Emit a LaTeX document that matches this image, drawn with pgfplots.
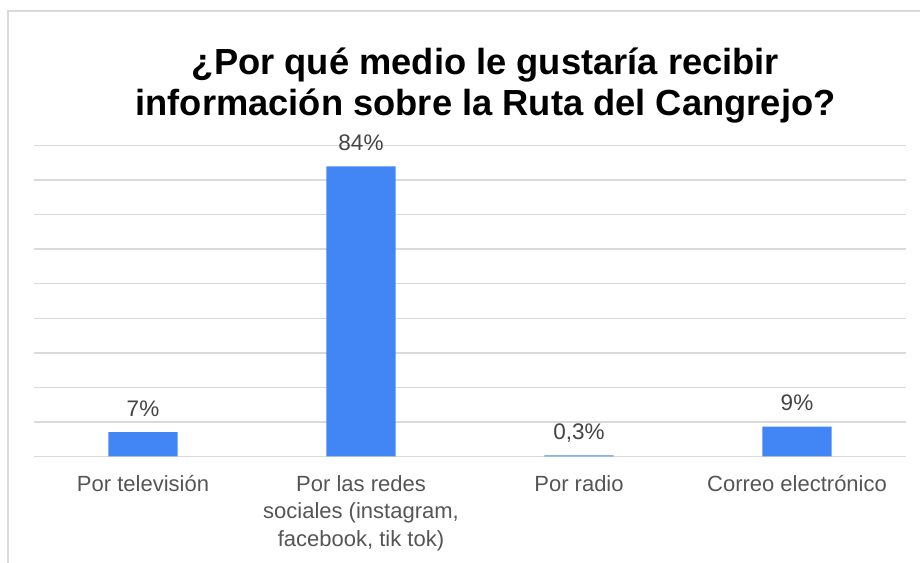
\documentclass[border=0pt]{standalone}
\usepackage{pgfplots}
\pgfplotsset{compat=1.18}
\usepackage{fontspec}
\setmainfont{Liberation Sans}
\definecolor{barblue}{HTML}{4285F4}
\definecolor{gridgray}{HTML}{DADADA}
\definecolor{ticktext}{HTML}{555555}
\definecolor{labeltext}{HTML}{444444}
\begin{document}
\begin{tikzpicture}
\path[use as bounding box] (0,0) rectangle (920pt,562pt);
\draw[gridgray, line width=1.5pt] (8pt,-5pt) -- (8pt,551pt) -- (930pt,551pt);
\node[anchor=base, align=center, font=\fontsize{36.3}{41}\selectfont\bfseries, text=black, inner sep=0pt]
  at (485.5pt,446pt) {¿Por qué medio le gustaría recibir\\información sobre la Ruta del Cangrejo?};
\begin{axis}[
  at={(34pt,105.7pt)}, anchor=south west,
  scale only axis, width=872pt, height=310.6pt,
  xmin=-0.5, xmax=3.5, ymin=0, ymax=90,
  ytick={0,10,...,90}, yticklabels={},
  ymajorgrids, major grid style={gridgray, line width=1.5pt},
  axis line style={draw=none}, tick style={draw=none},
  xtick={0,1,2,3},
  xticklabels={Por televisión, {Por las redes\\sociales (instagram,\\facebook, tik tok)}, Por radio, Correo electrónico},
  xticklabel style={font=\fontsize{22}{27.3}\selectfont, text=ticktext, align=center, anchor=north, yshift=-14.7pt, inner sep=0pt},
  ybar, bar width=69.4pt,
  point meta=explicit symbolic,
  nodes near coords,
  every node near coord/.append style={font=\fontsize{22.5}{27}\selectfont, text=labeltext, anchor=base, yshift=16pt, inner sep=0pt},
  clip=false,
]
\addplot[fill=barblue, draw=none] coordinates {
  (0,7) [7\%]
  (1,84) [84\%]
  (2,0.3) [{0,3\%}]
  (3,8.6) [9\%]
};
\end{axis}
\end{tikzpicture}
\end{document}
